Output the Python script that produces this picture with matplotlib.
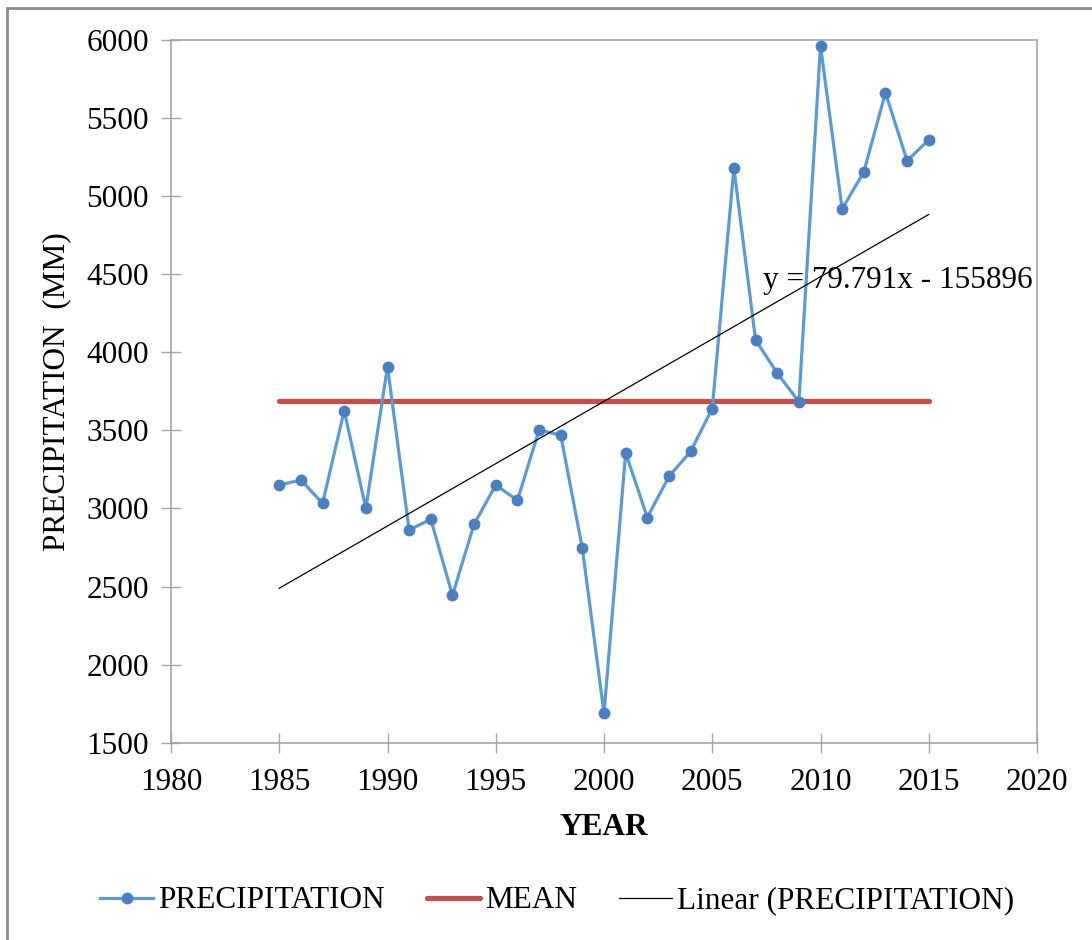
import numpy as np
import matplotlib
matplotlib.use("Agg")
import matplotlib.pyplot as plt
from matplotlib.patches import Rectangle

# annual precipitation (mm), 1985-2015
years = list(range(1985, 2016))
precip = [3150, 3182, 3033, 3626, 3001, 3908, 2862, 2931, 2444, 2899,
          3150, 3052, 3502, 3470, 2745, 1688, 3357, 2942, 3205, 3365,
          3640, 5180, 4079, 3867, 3684, 5963, 4918, 5155, 5663, 5227,
          5360]

# linear trend as reported on the chart
slope = 79.791
intercept = -155896

x_ticks = list(range(1980, 2021, 5))
y_ticks = list(range(1500, 6001, 500))

plt.rcParams["font.family"] = ["Liberation Serif", "DejaVu Serif"]
FS = 22.5
AXIS_GREY = "#a6a6a6"

fig = plt.figure(figsize=(10.92, 9.40), dpi=100)
ax = fig.add_axes([171 / 1092, 1 - 742.7 / 940, (1037 - 171) / 1092, (742.7 - 40) / 940])

yrs = np.array(years)
mean_val = np.mean(precip)

ax.plot(years, precip, color="#5b9bd5", lw=2.3, marker="o", ms=7.5,
        mfc="#4a7fc1", mec="#4a7fc1", label="PRECIPITATION", zorder=3)
ax.plot([yrs[0], yrs[-1]], [mean_val, mean_val], color="#c0504d", lw=3.8,
        solid_capstyle="round", label="MEAN", zorder=2)
ax.plot([yrs[0], yrs[-1]], [slope * yrs[0] + intercept, slope * yrs[-1] + intercept],
        color="black", lw=0.9, label="Linear (PRECIPITATION)", zorder=4)

ax.text(2007.35, 4463, f"y = {slope}x - {abs(intercept)}", fontsize=FS,
        ha="left", va="center", zorder=5)

ax.set_xlim(1980, 2020)
ax.set_ylim(1500, 6000)
ax.set_xticks(x_ticks)
ax.set_yticks(y_ticks)
ax.tick_params(direction="inout", length=14, width=1, color=AXIS_GREY,
               labelsize=FS)
ax.tick_params(axis="x", pad=11)
ax.tick_params(axis="y", pad=9)
for s in ax.spines.values():
    s.set_color(AXIS_GREY)
    s.set_linewidth(1.2)

ax.set_xlabel("YEAR", fontsize=FS, fontweight="bold", labelpad=12)
ax.set_ylabel("PRECIPITATION  (MM)", fontsize=FS, labelpad=11)

fig.legend(loc="center", bbox_to_anchor=(557 / 1092, 1 - 901 / 940), ncol=3,
           frameon=False, fontsize=FS, handlelength=1.7, handletextpad=0.15,
           columnspacing=1.35, borderaxespad=0)

# chart border
fig.patches.append(Rectangle((7 / 1092, -0.05), 1.1, 1 - 8 / 940 + 0.05,
                             transform=fig.transFigure, fill=False,
                             edgecolor="#8c8c8c", lw=2))

fig.savefig("out.png", dpi=100)
